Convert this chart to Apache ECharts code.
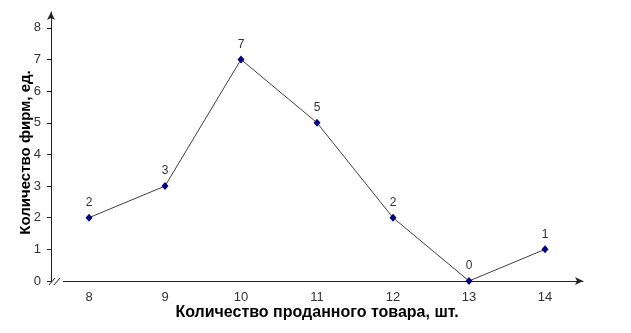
<!DOCTYPE html>
<html>
<head>
<meta charset="utf-8">
<script src="https://cdn.jsdelivr.net/npm/echarts@6/dist/echarts.min.js"></script>
<style>html,body{margin:0;padding:0;background:#fff}#c{width:631px;height:333px}</style>
</head>
<body>
<div id="c"></div>
<script>
var categories = ['8', '9', '10', '11', '12', '13', '14'];
var firms = [2, 3, 7, 5, 2, 0, 1];
var yTicks = [0, 1, 2, 3, 4, 5, 6, 7, 8];
var xTitle = 'Количество проданного товара, шт.';
var yTitle = 'Количество фирм, ед.';

var chart = echarts.init(document.getElementById('c'), null, {renderer: 'canvas'});
var font = 'Arial, "Liberation Sans", sans-serif';
chart.setOption({
  animation: false,
  backgroundColor: '#fff',
  grid: {left: 51, right: 48, top: 12, bottom: 52, containLabel: false},
  xAxis: {
    type: 'category',
    data: categories,
    boundaryGap: true,
    name: xTitle,
    nameLocation: 'middle',
    nameGap: 24,
    nameMoveOverlap: false,
    nameTextStyle: {fontFamily: font, fontSize: 16, fontWeight: 'bold', color: '#000', verticalAlign: 'top'},
    axisLine: {show: true, symbol: ['none', 'arrow'], symbolSize: [6, 8], lineStyle: {color: '#222', width: 1}},
    axisTick: {show: false},
    axisLabel: {fontFamily: font, fontSize: 13, color: '#333', margin: 10},
    splitLine: {show: false}
  },
  yAxis: {
    type: 'value',
    min: 0,
    max: 8.5,
    name: yTitle,
    nameLocation: 'middle',
    nameGap: 18,
    nameRotate: 90,
    nameMoveOverlap: false,
    nameTextStyle: {fontFamily: font, fontSize: 15, fontWeight: 'bold', color: '#000', padding: [0, 0, 0, -12]},
    axisLine: {show: true, symbol: ['none', 'arrow'], symbolSize: [6, 8], lineStyle: {color: '#222', width: 1}},
    axisTick: {show: true, length: 4, inside: false, customValues: yTicks, lineStyle: {color: '#222'}},
    axisLabel: {fontFamily: font, fontSize: 13, color: '#333', margin: 10, customValues: yTicks},
    splitLine: {show: false}
  },
  series: [{
    type: 'line',
    data: firms,
    symbol: 'diamond',
    symbolSize: [7, 8],
    itemStyle: {color: '#000080'},
    lineStyle: {color: '#404040', width: 1},
    label: {show: true, position: 'top', distance: 5, fontFamily: font, fontSize: 12, color: '#333'}
  }]
});

var ox = chart.getModel().getComponent('grid').coordinateSystem.getRect().x;
var oy = chart.convertToPixel({yAxisIndex: 0}, 0);
chart.setOption({
  graphic: [
    {type: 'rect', shape: {x: ox + 1, y: oy - 3, width: 11, height: 6}, style: {fill: '#fff'}, z: 100},
    {type: 'line', shape: {x1: ox - 2, y1: oy + 4, x2: ox + 4, y2: oy - 3}, style: {stroke: '#222', lineWidth: 1}, z: 101},
    {type: 'line', shape: {x1: ox + 3, y1: oy + 4, x2: ox + 9, y2: oy - 3}, style: {stroke: '#222', lineWidth: 1}, z: 101}
  ]
});
</script>
</body>
</html>
